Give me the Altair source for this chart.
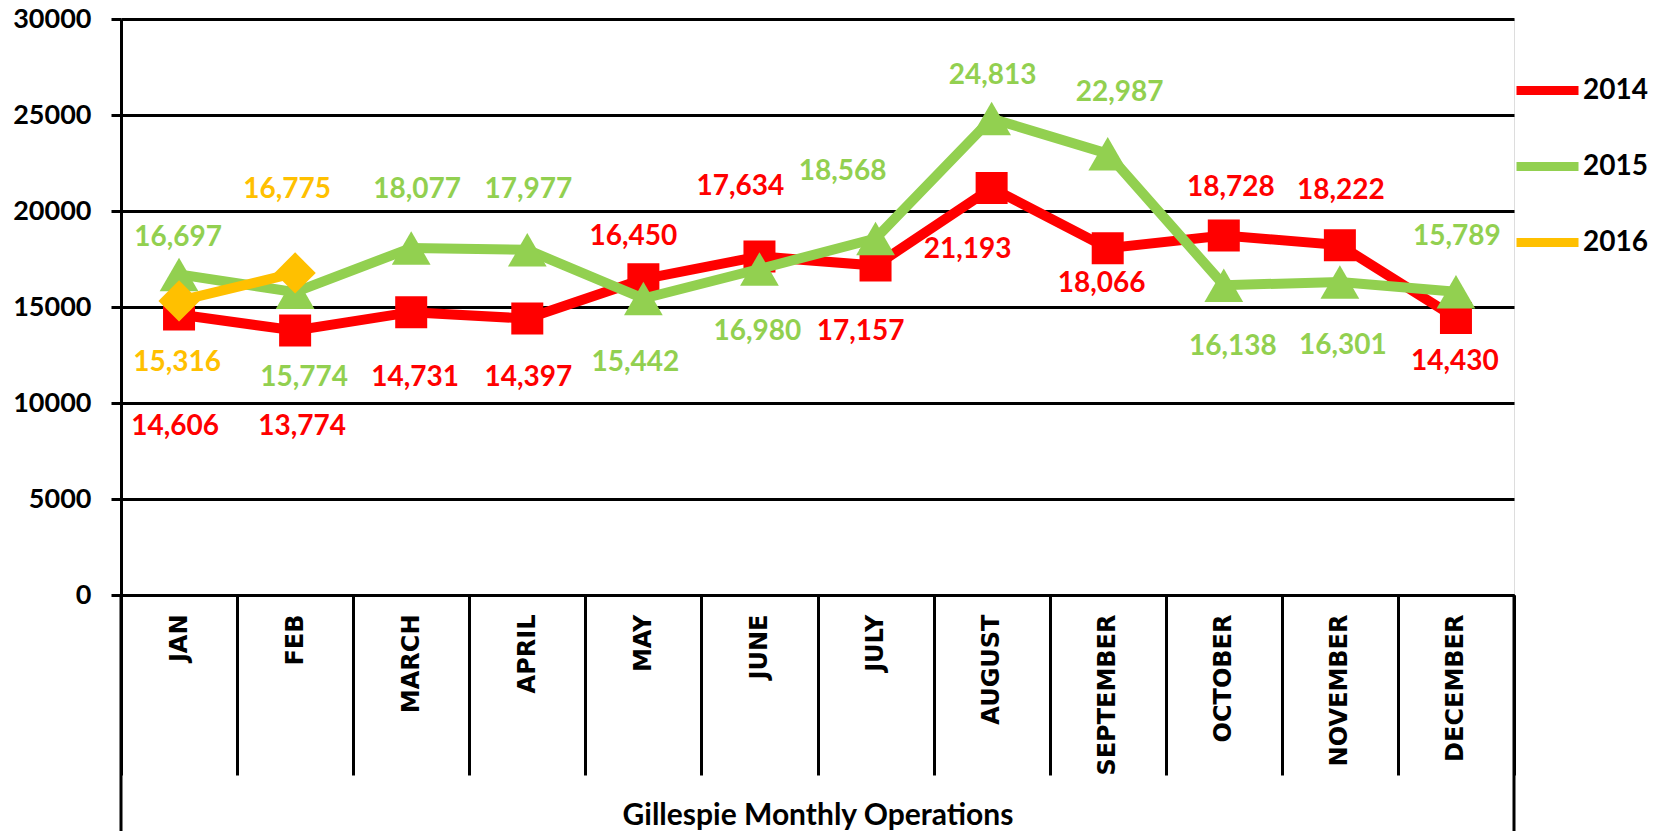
import altair as alt
import pandas as pd

months = ["JAN", "FEB", "MARCH", "APRIL", "MAY", "JUNE", "JULY", "AUGUST",
          "SEPTEMBER", "OCTOBER", "NOVEMBER", "DECEMBER"]
years = ["2014", "2015", "2016"]

ops_2014 = [14606, 13774, 14731, 14397, 16450, 17634, 17157, 21193, 18066, 18728, 18222, 14430]
ops_2015 = [16697, 15774, 18077, 17977, 15442, 16980, 18568, 24813, 22987, 16138, 16301, 15789]
ops_2016 = [15316, 16775]

# manual data-label placement (pixel nudges, like Excel's moved labels)
dx_2014 = [-4, 7, 4, 1, -10, -19, -15, -24, -6, 7, 1, -1]
dy_2014 = [112, 96, 66, 59, -42, -69, 66, 62, 36, -47, -54, 44]
dx_2015 = [-1, 9, 6, 1, -8, -2, -33, 1, 12, 9, 3, 1]
dy_2015 = [-36, 86, -58, -60, 64, 63, -66, -43, -61, 62, 64, -55]
dx_2016 = [-2, -8]
dy_2016 = [62, -83]

colors = ["#FF0000", "#92D050", "#FFC000"]
shapes = ["square", "triangle-up", "diamond"]
sizes = [1024, 1500, 1700]

series = {"2014": (ops_2014, dx_2014, dy_2014),
          "2015": (ops_2015, dx_2015, dy_2015),
          "2016": (ops_2016, dx_2016, dy_2016)}
rows = []
for yr, (vals, dxs, dys) in series.items():
    for m, v, a, b in zip(months, vals, dxs, dys):
        rows.append({"month": m, "year": yr, "value": v, "label": f"{v:,}", "dx": a, "dy": b})
df = pd.DataFrame(rows)

W, H = 1393, 576
YMAX = 30000
FONT = "Lato"

x_enc = alt.X("month:N", sort=months,
              scale=alt.Scale(type="band", domain=months, paddingInner=0, paddingOuter=0),
              axis=alt.Axis(title="Gillespie Monthly Operations", titleFont=FONT, titleFontWeight="bold",
                            titleFontSize=30, titleColor="black", titleY=220, titleBaseline="middle",
                            labelAngle=270, labelFont="DejaVu Sans", labelFontWeight="bold",
                            labelFontSize=24, labelColor="black", labelPadding=-161,
                            tickBand="extent", tickSize=180, tickWidth=3, tickColor="black",
                            domainColor="black", domainWidth=3, grid=False))
y_scale = alt.Scale(domain=[0, YMAX], nice=False, zero=True)
y_axis = alt.Axis(values=[0, 5000, 10000, 15000, 20000, 25000, 30000], format="d",
                  title=None, grid=True, gridColor="black", gridWidth=3,
                  domainColor="black", domainWidth=3, tickColor="black", tickWidth=3,
                  tickSize=10, labelFont=FONT, labelFontWeight="bold", labelFontSize=27,
                  labelColor="black", labelPadding=20)
y_enc = alt.Y("value:Q", scale=y_scale, axis=y_axis)

color_scale = alt.Scale(domain=years, range=colors)
legend = alt.Legend(title=None, orient="none", legendX=1391, legendY=36, symbolType="stroke",
                    symbolStrokeWidth=9, symbolSize=3844, labelFont=FONT, labelFontWeight="bold",
                    labelFontSize=28, labelColor="black", labelOffset=0, rowPadding=22, padding=0)

base = alt.Chart(df)
layers = []
for yr, col, shp, sz in zip(years, colors, shapes, sizes):
    sub = base.transform_filter(alt.datum.year == yr)
    layers.append(sub.mark_line(strokeWidth=10).encode(
        x=x_enc, y=y_enc, color=alt.Color("year:N", scale=color_scale, legend=legend)))
    layers.append(sub.mark_point(filled=True, opacity=1, shape=shp, size=sz, color=col).encode(
        x=x_enc, y=y_enc))

half_band = W / len(months) / 2
for yr, col in zip(years, colors):
    sub = base.transform_filter(alt.datum.year == yr).transform_calculate(
        label_value=f"datum.value - datum.dy * {YMAX} / {H}",
        x_off=f"datum.dx + {half_band}")
    layers.append(sub.mark_text(font=FONT, fontWeight="bold", fontSize=28, color=col,
                                baseline="middle", align="center").encode(
        x=x_enc,
        y=alt.Y("label_value:Q", scale=y_scale, axis=y_axis),
        xOffset=alt.XOffset("x_off:Q", scale=None),
        text="label:N"))

frame = alt.Chart(pd.DataFrame({"k": [0, 1]})).mark_rule(color="black", strokeWidth=3).encode(
    x=alt.X("k:Q", scale=alt.Scale(domain=[0, 1]), axis=None),
    y=alt.value(H), y2=alt.value(H + 260))

chart = alt.layer(*layers).resolve_scale(x="shared")
chart = alt.layer(chart, frame).resolve_scale(x="independent").properties(
    width=W, height=H,
    autosize=alt.AutoSizeParams(type="none"),
    padding={"left": 113, "top": 11, "right": 135, "bottom": 236},
).configure_view(stroke=None).configure(background="white")

chart.save("out.html", embed_options={"renderer": "svg", "actions": False})
